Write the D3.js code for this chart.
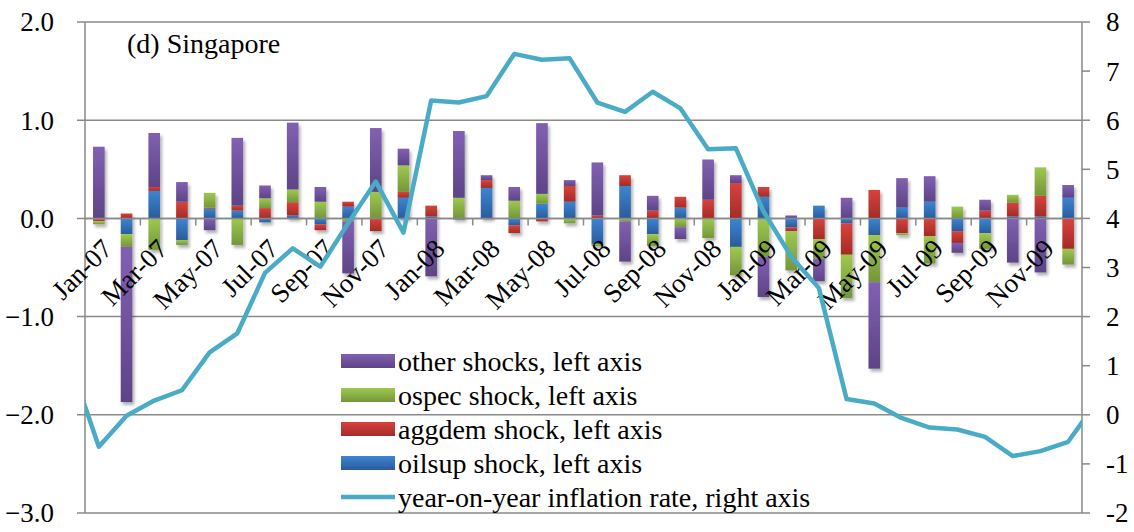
<!DOCTYPE html>
<html>
<head>
<meta charset="utf-8">
<script src="https://cdn.jsdelivr.net/npm/d3@7"></script>
<style>
  body { margin: 0; background: #fff; }
</style>
</head>
<body>
<script>
// months on the category axis
const months = ["Jan-07","Feb-07","Mar-07","Apr-07","May-07","Jun-07","Jul-07","Aug-07","Sep-07","Oct-07","Nov-07","Dec-07",
  "Jan-08","Feb-08","Mar-08","Apr-08","May-08","Jun-08","Jul-08","Aug-08","Sep-08","Oct-08","Nov-08","Dec-08",
  "Jan-09","Feb-09","Mar-09","Apr-09","May-09","Jun-09","Jul-09","Aug-09","Sep-09","Oct-09","Nov-09","Dec-09"];

// shock contributions, left axis
const oilsup = [-0.01,-0.16,0.28,-0.22,0.10,0.08,-0.04,0.03,-0.06,0.12,0.00,0.21,
  0.02,-0.01,0.31,-0.07,0.15,0.17,-0.26,0.33,-0.16,0.11,0.00,-0.29,
  0.22,-0.09,0.13,-0.05,-0.17,0.11,0.17,-0.13,-0.15,0.02,0.02,0.21];
const aggdem = [-0.02,0.05,0.04,0.17,0.01,0.05,0.105,0.135,-0.06,0.05,-0.13,0.06,
  0.11,0.00,0.08,-0.08,-0.03,0.16,0.03,0.11,0.08,0.11,0.19,0.36,
  0.10,-0.04,-0.21,-0.32,0.29,-0.15,-0.18,-0.12,0.08,0.14,0.21,-0.31];
const ospec = [-0.03,-0.13,-0.32,-0.05,0.15,-0.27,0.10,0.13,0.17,-0.03,0.27,0.27,
  0.00,0.21,0.00,0.18,0.10,-0.05,-0.02,-0.03,-0.12,-0.09,-0.20,-0.29,
  -0.39,-0.40,-0.20,-0.44,-0.48,-0.02,-0.28,0.12,-0.16,0.08,0.29,-0.16];
const other = [0.73,-1.58,0.55,0.20,-0.12,0.69,0.13,0.68,0.15,-0.53,0.65,0.17,
  -0.59,0.68,0.05,0.14,0.72,0.06,0.54,-0.41,0.15,-0.12,0.41,0.08,
  -0.41,0.03,-0.23,0.21,-0.88,0.30,0.26,-0.10,0.11,-0.45,-0.55,0.13];

// year-on-year inflation, right axis (Dec-06 .. Jan-10, ends are clipped by the plot)
const inflationMonths = ["Dec-06"].concat(months, ["Jan-10"]);
const inflation = [1.0,-0.65,-0.02,0.29,0.50,1.27,1.66,2.89,3.39,3.02,3.90,4.75,3.71,
  6.40,6.36,6.49,7.35,7.23,7.26,6.36,6.17,6.58,6.24,5.41,5.43,
  4.14,3.22,2.58,0.32,0.23,-0.07,-0.26,-0.30,-0.45,-0.84,-0.74,-0.55,0.24];

const leftTicks = [2, 1, 0, -1, -2, -3];
const rightTicks = [8, 7, 6, 5, 4, 3, 2, 1, 0, -1, -2];

const seriesKeys = ["oilsup", "aggdem", "ospec", "other"];
const seriesInfo = {
  oilsup: { label: "oilsup shock, left axis", top: "#3d84d2", bottom: "#2a5c9c" },
  aggdem: { label: "aggdem shock, left axis", top: "#d8433c", bottom: "#a32b28" },
  ospec:  { label: "ospec shock, left axis",  top: "#9ec94f", bottom: "#74963a" },
  other:  { label: "other shocks, left axis", top: "#8160b2", bottom: "#5d4486" }
};
const lineColor = "#4aabc6";
const gridColor = "#898989";
const font = "Liberation Serif";

const W = 1134, H = 532;
const plot = { left: 85, right: 1082, top: 22, bottom: 513 };

const svg = d3.select("body").append("svg")
  .attr("width", W).attr("height", H)
  .attr("font-family", font);

const defs = svg.append("defs");
seriesKeys.forEach(k => {
  const g = defs.append("linearGradient").attr("id", "grad-" + k)
    .attr("x1", 0).attr("y1", 0).attr("x2", 0).attr("y2", 1);
  g.append("stop").attr("offset", "0%").attr("stop-color", seriesInfo[k].top);
  g.append("stop").attr("offset", "100%").attr("stop-color", seriesInfo[k].bottom);
});
defs.append("filter").attr("id", "shadow")
  .attr("x", "-30%").attr("y", "-10%").attr("width", "160%").attr("height", "130%")
  .append("feDropShadow")
  .attr("dx", 2).attr("dy", 3).attr("stdDeviation", 1.8)
  .attr("flood-color", "#000").attr("flood-opacity", 0.3);
defs.append("clipPath").attr("id", "plotclip")
  .append("rect")
  .attr("x", plot.left).attr("y", plot.top - 5)
  .attr("width", plot.right - plot.left).attr("height", plot.bottom - plot.top + 10);

// scales
const x = d3.scaleBand().domain(months)
  .range([plot.left, plot.right]).paddingInner(0.58).paddingOuter(0.29);
const xIdx = d3.scaleLinear().domain([0, months.length]).range([plot.left, plot.right]);
const yL = d3.scaleLinear().domain([-3, 2]).range([plot.bottom, plot.top]);
const yR = d3.scaleLinear().domain([-2, 8]).range([plot.bottom, plot.top]);

// gridlines
svg.append("g").selectAll("line").data(leftTicks).enter().append("line")
  .attr("x1", plot.left - 8).attr("x2", plot.right)
  .attr("y1", d => yL(d)).attr("y2", d => yL(d))
  .attr("stroke", gridColor).attr("stroke-width", 1.5);

// left axis
svg.append("line")
  .attr("x1", plot.left).attr("x2", plot.left)
  .attr("y1", plot.top).attr("y2", plot.bottom)
  .attr("stroke", gridColor).attr("stroke-width", 1.5);
svg.append("g").selectAll("text").data(leftTicks).enter().append("text")
  .attr("x", 54).attr("y", d => yL(d)).attr("dy", "0.35em")
  .attr("text-anchor", "end").style("font-size", "27px")
  .text(d => d3.format(".1f")(d));

// right axis
svg.append("line")
  .attr("x1", plot.right).attr("x2", plot.right)
  .attr("y1", plot.top).attr("y2", plot.bottom)
  .attr("stroke", gridColor).attr("stroke-width", 1.5);
svg.append("g").selectAll("line").data(rightTicks).enter().append("line")
  .attr("x1", plot.right).attr("x2", plot.right + 8)
  .attr("y1", d => yR(d)).attr("y2", d => yR(d))
  .attr("stroke", gridColor).attr("stroke-width", 1.5);
svg.append("g").selectAll("text").data(rightTicks).enter().append("text")
  .attr("x", 1106).attr("y", d => yR(d)).attr("dy", "0.35em")
  .attr("text-anchor", "start").style("font-size", "27px")
  .text(d => d);

// stacked bars
const rows = months.map((m, i) => ({
  month: m, oilsup: oilsup[i], aggdem: aggdem[i], ospec: ospec[i], other: other[i]
}));
const stacked = d3.stack().keys(seriesKeys).offset(d3.stackOffsetDiverging)(rows);

const barLayer = svg.append("g").attr("filter", "url(#shadow)");
stacked.forEach(layer => {
  barLayer.append("g")
    .attr("fill", "url(#grad-" + layer.key + ")")
    .selectAll("rect").data(layer).enter().append("rect")
    .attr("x", d => x(d.data.month))
    .attr("width", x.bandwidth())
    .attr("y", d => yL(Math.max(d[0], d[1])))
    .attr("height", d => Math.abs(yL(d[0]) - yL(d[1])));
});

// category axis on the zero line
const y0 = yL(0);
svg.append("line")
  .attr("x1", plot.left).attr("x2", plot.right)
  .attr("y1", y0).attr("y2", y0)
  .attr("stroke", gridColor).attr("stroke-width", 1.5);
const tickIdx = d3.range(2, months.length, 2);
svg.append("g").selectAll("line").data(tickIdx).enter().append("line")
  .attr("x1", d => xIdx(d)).attr("x2", d => xIdx(d))
  .attr("y1", y0).attr("y2", y0 + 7)
  .attr("stroke", gridColor).attr("stroke-width", 1.5);
svg.append("g").selectAll("text")
  .data(months.filter((m, i) => i % 2 === 0)).enter().append("text")
  .attr("transform", d => `translate(${x(d) + x.bandwidth() / 2 + 15}, ${y0 + 32}) rotate(-45)`)
  .attr("text-anchor", "end").style("font-size", "27px")
  .text(d => d);

// inflation line
const line = d3.line()
  .x((d, i) => xIdx(i - 0.5))
  .y(d => yR(d));
svg.append("path")
  .datum(inflation)
  .attr("clip-path", "url(#plotclip)")
  .attr("fill", "none")
  .attr("stroke", lineColor)
  .attr("stroke-width", 4.5)
  .attr("stroke-linejoin", "round")
  .attr("d", line);

// panel title
svg.append("text")
  .attr("x", 127).attr("y", 53)
  .style("font-size", "28px")
  .text("(d) Singapore");

// legend
const legendItems = ["other", "ospec", "aggdem", "oilsup"];
const legend = svg.append("g").attr("transform", "translate(341, 361)");
legendItems.forEach((k, i) => {
  const row = legend.append("g").attr("transform", `translate(0, ${i * 34})`);
  row.append("rect")
    .attr("x", 0).attr("y", -7).attr("width", 54).attr("height", 14)
    .attr("fill", "url(#grad-" + k + ")");
  row.append("text")
    .attr("x", 57).attr("y", 0).attr("dy", "0.35em")
    .style("font-size", "28px")
    .text(seriesInfo[k].label);
});
const lineRow = legend.append("g").attr("transform", `translate(0, ${4 * 34})`);
lineRow.append("line")
  .attr("x1", 0).attr("x2", 54).attr("y1", 0).attr("y2", 0)
  .attr("stroke", lineColor).attr("stroke-width", 4.5);
lineRow.append("text")
  .attr("x", 57).attr("y", 0).attr("dy", "0.35em")
  .style("font-size", "28px")
  .text("year-on-year inflation rate, right axis");
</script>
</body>
</html>
